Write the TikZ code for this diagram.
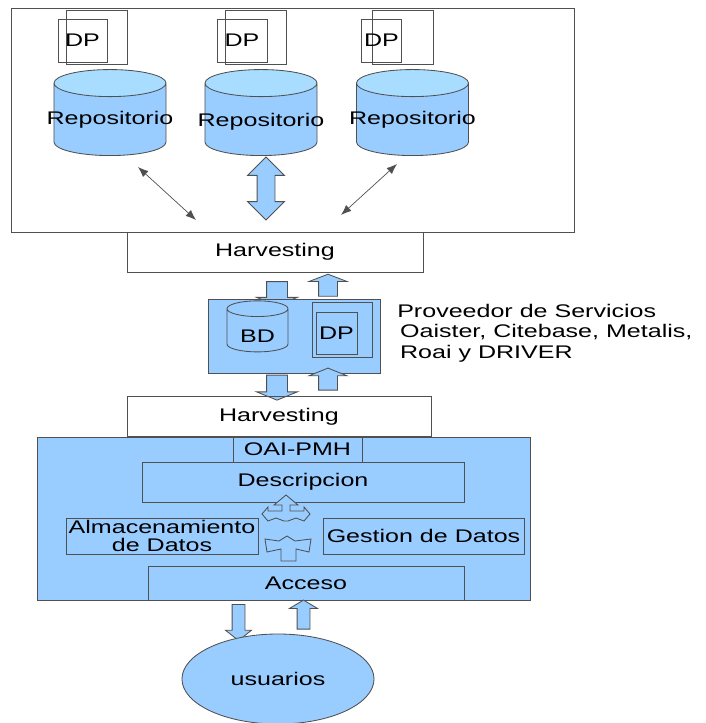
\documentclass[tikz,border=0pt]{standalone}
\usepackage{fontspec}
\setmainfont[FakeStretch=1.37]{Liberation Sans}
\usetikzlibrary{shapes.geometric,shapes.arrows,arrows.meta}
\definecolor{boxblue}{HTML}{99CCFF}
\definecolor{capblue}{HTML}{A8DDFF}
\definecolor{edge}{HTML}{505050}
\tikzset{
  box/.style={draw=edge, line width=0.6pt, inner sep=0pt},
  bluebox/.style={box, fill=boxblue},
  repo/.style={cylinder, shape border rotate=90, draw=edge, line width=0.6pt,
    cylinder uses custom fill, cylinder body fill=boxblue, cylinder end fill=capblue,
    aspect=0.26, inner sep=0pt, minimum width=2.8cm, minimum height=2.15cm,
    text height=18pt, text depth=3pt, anchor=south},
  fatarrow/.style={draw=edge, line width=0.6pt, fill=boxblue, inner sep=0pt},
  thinarrow/.style={{Latex[length=2.6mm,width=2mm]}-{Latex[length=2.6mm,width=2mm]}, draw=edge, line width=0.5pt}
}
\begin{document}
\begin{tikzpicture}[x=0.025cm, y=-0.025cm, font=\fontsize{13}{15}\selectfont]
    \useasboundingbox (0,0) rectangle (705,723);

    % repositories
    \node[box, minimum width=14.075cm, minimum height=5.6cm] (repos) at (292.5,120) {};
    \node[box, minimum width=1.525cm, minimum height=1.35cm] (dpa) at (96.5,37) {};
    \node[box, minimum width=1.225cm, minimum height=1.075cm] (dpA) at (82.5,40.5) {DP};
    \node[box, minimum width=1.525cm, minimum height=1.35cm] (dpb) at (255.5,37) {};
    \node[box, minimum width=1.25cm, minimum height=1.075cm] (dpB) at (242,40.5) {DP};
    \node[box, minimum width=1.525cm, minimum height=1.35cm] (dpc) at (402.5,37) {};
    \node[box, minimum width=1.0cm, minimum height=1.075cm] (dpC) at (381.5,40.5) {DP};

    \node[repo] (repoA) at (110,156) {\raisebox{4pt}{\makebox[2.6cm]{Repositorio}}};
    \node[repo] (repoB) at (261,156) {\raisebox{2.5pt}{\makebox[2.6cm]{Repositorio}}};
    \node[repo] (repoC) at (412.5,156) {\raisebox{4pt}{\makebox[2.6cm]{Repositorio}}};

    \coordinate (a1) at (138,167);
    \coordinate (a2) at (196,220);
    \coordinate (c1) at (397,164);
    \coordinate (c2) at (341,215);
    \draw[thinarrow] (a1) -- (a2);
    \draw[thinarrow] (c1) -- (c2);
    \node[fatarrow, double arrow, rotate=90, minimum height=1.575cm, minimum width=0.9cm,
      double arrow head extend=0.2375cm, inner ysep=0.2125cm] (mid) at (266,188.5) {};

    \node[box, minimum width=7.4cm, minimum height=1.0cm] (harvA) at (275,252) {Harvesting};

    % service provider
    \node[fatarrow, single arrow, rotate=-90, minimum height=0.6cm, minimum width=1.0cm,
      single arrow head extend=0.25cm, single arrow tip angle=136, inner ysep=0.25cm] (dnA) at (277,291.5) {};
    \node[fatarrow, single arrow, rotate=90, minimum height=0.55cm, minimum width=0.925cm,
      single arrow head extend=0.2375cm, single arrow tip angle=138, inner ysep=0.225cm] (upA) at (328,287) {};

    \node[bluebox, minimum width=4.3cm, minimum height=1.85cm] (serv) at (294,336) {};
    \node[cylinder, shape border rotate=90, draw=edge, line width=0.6pt, fill=boxblue, aspect=0.45,
      inner sep=0pt, minimum width=1.525cm, minimum height=1.275cm,
      text height=16.5pt, text depth=0pt] (bd) at (257.5,330.5) {BD};
    \node[bluebox, minimum width=1.5cm, minimum height=1.375cm] (dpS) at (342,329.5) {};
    \node[bluebox, minimum width=1.025cm, minimum height=1.05cm] (dpI) at (336.5,333) {DP};
    \node[anchor=north west, align=left, inner sep=0pt] (prov) at (397,304)
      {Proveedor de Servicios\\[-0.5pt]\hspace{2pt}Oaister, Citebase, Metalis,\\[-0.5pt]\hspace{2pt}Roai y DRIVER};

    \node[fatarrow, single arrow, rotate=-90, minimum height=0.625cm, minimum width=1.0cm,
      single arrow head extend=0.25cm, single arrow tip angle=136, inner ysep=0.25cm] (dnB) at (277,385.5) {};
    \node[fatarrow, single arrow, rotate=90, minimum height=0.55cm, minimum width=0.925cm,
      single arrow head extend=0.2375cm, single arrow tip angle=136, inner ysep=0.225cm] (upB) at (328,381) {};

    \node[box, minimum width=7.6cm, minimum height=1.0cm] (harvB) at (279,416.5) {Harvesting};

    % data provider
    \node[bluebox, minimum width=12.325cm, minimum height=4.075cm] (dprov) at (283.5,518.5) {};
    \node[bluebox, minimum width=3.225cm, minimum height=0.625cm] (oai) at (297.5,449.5) {OAI-PMH};
    \node[bluebox, minimum width=8.05cm, minimum height=1.0cm] (desc) at (303,482) {Descripcion};
    \node[bluebox, minimum width=4.8cm, minimum height=0.9cm, align=center] (alm) at (162,536)
      {\makebox[0pt]{Almacenamiento}\\[-2pt]de Datos};
    \node[bluebox, minimum width=5.025cm, minimum height=0.9cm] (gest) at (423.5,536) {\makebox[0pt]{Gestion de Datos}};
    \node[bluebox, minimum width=7.9cm, minimum height=0.85cm] (acc) at (306,583) {Acceso};

    \draw[fatarrow] (286,495) -- (298,505) -- (290,505) -- (290,511) -- (304,511) -- (304,507)
      -- (310,514) -- (304,521) -- (296,518) -- (288,521) -- (284,521) -- (276,518) -- (268,521)
      -- (262,514) -- (268,507) -- (268,511) -- (282,511) -- (282,505) -- (274,505) -- cycle;
    \draw[fatarrow] (265,539) -- (279,541) -- (287,536) -- (295,541) -- (311,539) -- (309,552)
      -- (296,549) -- (296,561) -- (281,561) -- (281,549) -- (267,552) -- cycle;

    % users
    \node[fatarrow, single arrow, rotate=-90, minimum height=0.9cm, minimum width=0.625cm,
      single arrow head extend=0.1625cm, single arrow tip angle=103, inner ysep=0.15cm] (dnC) at (238.5,620) {};
    \node[fatarrow, single arrow, rotate=90, minimum height=0.725cm, minimum width=0.675cm,
      single arrow head extend=0.1875cm, single arrow tip angle=118, inner ysep=0.15cm] (upC) at (303.5,616.5) {};
    \node[ellipse, draw=edge, line width=0.6pt, fill=boxblue, minimum width=4.8cm, minimum height=2.25cm] (users) at (278,679) {usuarios};

    \end{tikzpicture}
\end{document}
